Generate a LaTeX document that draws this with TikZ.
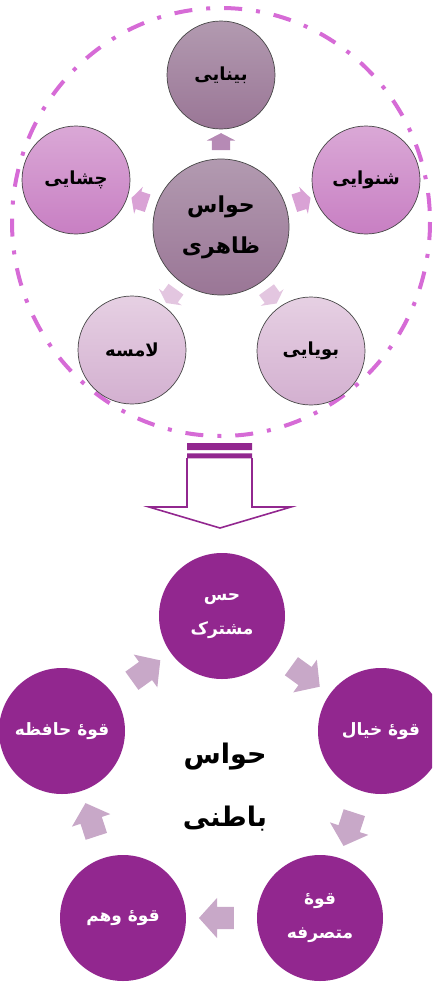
\documentclass[tikz,border=0pt]{standalone}
\usepackage{fontspec}
\newfontfamily\arabicfont[Script=Arabic]{DejaVu Sans}
\TeXXeTstate=1
\usetikzlibrary{shapes.arrows}
\definecolor{banafsh}{HTML}{92278F}
\definecolor{khatchin}{HTML}{D66BD6}
\definecolor{tirpain}{HTML}{C8A8C8}
\definecolor{toosi1}{HTML}{B29AB0}
\definecolor{toosi2}{HTML}{9A7696}
\definecolor{surati1}{HTML}{DAA8D6}
\definecolor{surati2}{HTML}{C87FC3}
\definecolor{rowshan1}{HTML}{E6D0E3}
\definecolor{rowshan2}{HTML}{D3B0D0}
\definecolor{tirtoosi}{HTML}{B68AB5}
\definecolor{tirsurati}{HTML}{D9A2D5}
\definecolor{tirrowshan}{HTML}{E3C6E0}
\begin{document}
\begin{tikzpicture}[x=1pt,y=-1pt,
	tbox/.style={circle,draw=gray!55!black,line width=0.7pt,inner sep=0pt,minimum size=108pt,align=center,font=\arabicfont\bfseries\fontsize{18}{20}\selectfont},
	pbox/.style={circle,fill=banafsh,text=white,inner sep=0pt,minimum size=126pt,align=center,font=\arabicfont\bfseries\fontsize{17}{34}\selectfont},
	ttir/.style={single arrow,draw=none,inner xsep=0pt,inner ysep=9pt,single arrow head extend=5pt,single arrow tip angle=125,minimum height=17pt,midway,sloped,allow upside down},
	ptir/.style={single arrow,draw=none,fill=tirpain,inner xsep=0pt,inner ysep=11pt,single arrow head extend=9pt,single arrow tip angle=96,minimum height=35pt,midway,sloped,allow upside down}]
	\useasboundingbox (0,0) rectangle (432,983);
	\clip (0,0) rectangle (432,983);
	% hava-ye zaheri
	\draw[khatchin,line width=4pt,dash pattern=on 18pt off 14pt on 4pt off 14pt] (221,222) ellipse [x radius=209,y radius=214];
	\node[tbox,minimum size=136pt,font=\arabicfont\bfseries\fontsize{22}{41}\selectfont,top color=toosi1,bottom color=toosi2] (zaheri) at (221,227) {\beginR حواس\endR\\\beginR ظاهری\endR};
	\node[tbox,top color=toosi1,bottom color=toosi2] (binayi) at (221,75) {\beginR بینایی\endR};
	\node[tbox,top color=surati1,bottom color=surati2] (chashayi) at (76,180) {\beginR چشایی\endR};
	\node[tbox,top color=surati1,bottom color=surati2] (shenavayi) at (366,180) {\beginR شنوایی\endR};
	\node[tbox,top color=rowshan1,bottom color=rowshan2] (lamese) at (132,350) {\beginR لامسه\endR};
	\node[tbox,top color=rowshan1,bottom color=rowshan2] (bouyayi) at (311,351) {\beginR بویایی\endR};
	\path (zaheri) -- (binayi) node[ttir,fill=tirtoosi] (t1) {};
	\path (zaheri) -- (chashayi) node[ttir,fill=tirsurati] (t2) {};
	\path (zaheri) -- (shenavayi) node[ttir,fill=tirsurati] (t3) {};
	\path (zaheri) -- (lamese) node[ttir,fill=tirrowshan] (t4) {};
	\path (zaheri) -- (bouyayi) node[ttir,fill=tirrowshan] (t5) {};
	% tir-e bozorg
	\fill[banafsh] (187,443) rectangle (252,450) (187,453.3) rectangle (252,458.3);
	\draw[banafsh,line width=1.6pt,line join=miter] (187,458) -- (187,507) -- (149,507) -- (220,528) -- (291,507) -- (252,507) -- (252,458);
	% hava-ye bateni
	\node[font=\arabicfont\bfseries\fontsize{27}{63}\selectfont,align=center] (bateni) at (225,787) {\beginR حواس\endR\\\beginR باطنی\endR};
	\node[pbox] (moshtarak) at (222,616) {\beginR حس\endR\\\beginR مشترک\endR};
	\node[pbox] (khiyal) at (381,731) {\beginR قوهٔ خیال\endR};
	\node[pbox] (motasarrefe) at (320,918) {\beginR قوهٔ\endR\\\beginR متصرفه\endR};
	\node[pbox] (vahm) at (123,918) {\beginR قوهٔ وهم\endR};
	\node[pbox] (hafeze) at (62,731) {\beginR قوهٔ حافظه\endR};
	\path (moshtarak) -- (khiyal) node[ptir] (p1) {};
	\path (khiyal) -- (motasarrefe) node[ptir] (p2) {};
	\path (motasarrefe) -- (vahm) node[ptir] (p3) {};
	\path (vahm) -- (hafeze) node[ptir] (p4) {};
	\path (hafeze) -- (moshtarak) node[ptir] (p5) {};
\end{tikzpicture}
\end{document}
